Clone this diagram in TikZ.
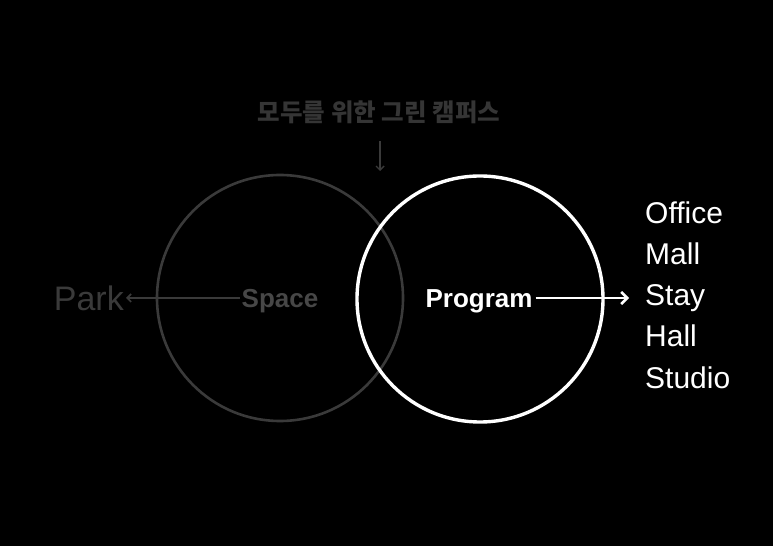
\documentclass[tikz,border=0pt]{standalone}
\usepackage{fontspec}
\setmainfont{Liberation Sans}
\newfontfamily\krfont{Noto Sans CJK KR}
\usetikzlibrary{arrows.meta}
\definecolor{dimgray}{HTML}{3A3A3A}
\definecolor{spacegray}{HTML}{474747}
\definecolor{titlegray}{HTML}{353535}
\begin{document}
\begin{tikzpicture}[x=1pt,y=1pt,
  dimarrow/.style={draw=dimgray,line width=1.6pt,-{Straight Barb[length=4pt,width=8pt]}},
  brightarrow/.style={draw=white,line width=2.6pt,-{Straight Barb[length=6pt,width=12pt]}},
  listitem/.style={anchor=base west,inner sep=0pt,text=white,font=\fontsize{30}{30}\selectfont}]

\fill[black] (0,0) rectangle (773,546);
\useasboundingbox (0,0) rectangle (773,546);

% circles
\draw[dimgray,line width=2.6pt] (280,248) circle (123);
\draw[white,line width=3.4pt] (480,247) circle (123);

% title and down arrow
\node (title) at (379,434) {\krfont\bfseries\color{titlegray}\fontsize{24.5}{24.5}\selectfont 모두를 위한 그린 캠퍼스};
\coordinate (titletop) at (380,405);
\coordinate (titletip) at (380,375);
\draw[dimarrow,line width=1.4pt] (titletop) -- (titletip);

% left side
\node[text=spacegray,font=\bfseries\fontsize{26}{26}\selectfont,inner sep=2pt] (space) at (280,245) {Space};
\node[text=dimgray,font=\fontsize{34}{34}\selectfont,anchor=east,inner sep=2pt] (park) at (126,248) {Park};
\draw[dimarrow] (space.west |- 0,248) -- (park.east |- 0,248);

% right side
\node[text=white,font=\bfseries\fontsize{26}{26}\selectfont,inner sep=3pt] (program) at (479,245) {Program};

\node[listitem] (office) at (645,322) {Office};
\node[listitem] (mall) at (645,281) {Mall};
\node[listitem] (stay) at (645,240) {Stay};
\node[listitem] (hall) at (645,199) {Hall};
\node[listitem] (studio) at (645,157) {Studio};

\draw[brightarrow] (program.east |- 0,248) -- ([xshift=-16pt]stay.west |- 0,248);

\end{tikzpicture}
\end{document}
